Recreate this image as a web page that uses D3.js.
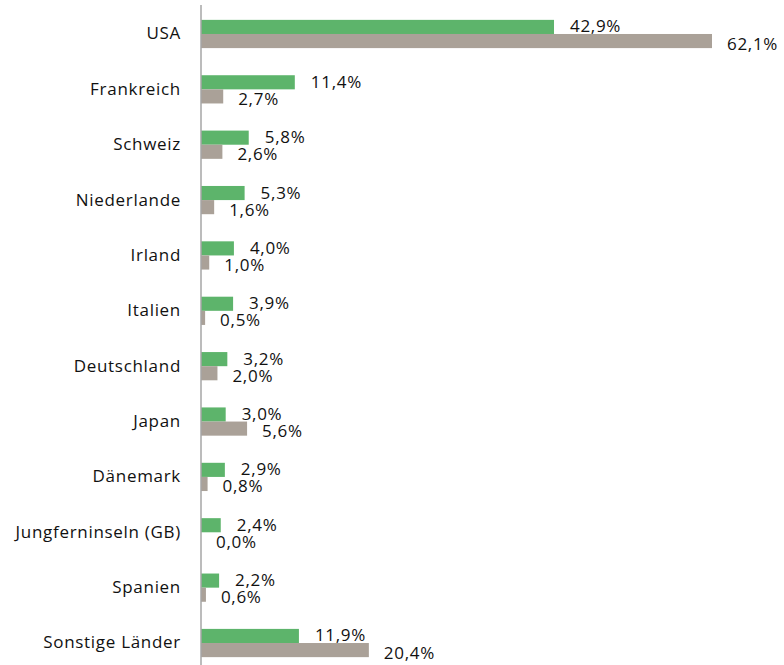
<!DOCTYPE html>
<html>
<head>
<meta charset="utf-8">
<script src="https://cdn.jsdelivr.net/npm/d3@7"></script>
<style>
  html, body { margin: 0; padding: 0; background: #fff; }
  svg { display: block; }
  text { font-family: "Open Sans", "Liberation Sans", sans-serif; letter-spacing: 0.7px; }
</style>
</head>
<body>
<svg id="chart" width="784" height="665"></svg>
<script>
const countries = ["USA", "Frankreich", "Schweiz", "Niederlande", "Irland", "Italien",
  "Deutschland", "Japan", "Dänemark", "Jungferninseln (GB)", "Spanien", "Sonstige Länder"];
const seriesA = [42.9, 11.4, 5.8, 5.3, 4.0, 3.9, 3.2, 3.0, 2.9, 2.4, 2.2, 11.9];
const seriesB = [62.1, 2.7, 2.6, 1.6, 1.0, 0.5, 2.0, 5.6, 0.8, 0.0, 0.6, 20.4];

const colorA = "#5db46b";
const colorB = "#aaa198";
const fmt = v => v.toFixed(1).replace(".", ",") + "%";
const fontSize = 17;

const svg = d3.select("#chart");
const x0 = 201;

const x = d3.scaleLinear().domain([0, 62.1]).range([x0, 712]);
const y = d3.scaleBand().domain(countries).range([6.3, 670.7]).paddingInner(0.49).paddingOuter(0.245);
const barH = y.bandwidth() / 2;

const rows = countries.map((c, i) => ({ c, a: seriesA[i], b: seriesB[i] }));

const g = svg.append("g");

// bars
g.selectAll("rect.a").data(rows).join("rect")
  .attr("x", x0).attr("y", d => y(d.c))
  .attr("width", d => x(d.a) - x0).attr("height", barH)
  .attr("fill", colorA);
g.selectAll("rect.b").data(rows).join("rect")
  .attr("x", x0).attr("y", d => y(d.c) + barH)
  .attr("width", d => x(d.b) - x0).attr("height", barH)
  .attr("fill", colorB);

// value labels
g.selectAll("text.la").data(rows).join("text")
  .attr("x", d => x(d.a) + 16).attr("y", d => y(d.c) + barH / 2 - 1)
  .attr("dominant-baseline", "central")
  .attr("font-size", fontSize).attr("fill", "#111")
  .text(d => fmt(d.a));
g.selectAll("text.lb").data(rows).join("text")
  .attr("x", d => x(d.b) + 15).attr("y", d => y(d.c) + barH * 1.5 + 2)
  .attr("dominant-baseline", "central")
  .attr("font-size", fontSize).attr("fill", "#111")
  .text(d => fmt(d.b));

// category axis
const axis = d3.axisLeft(y).tickSize(0).tickPadding(20);
const ag = svg.append("g").attr("transform", `translate(${x0},0)`).call(axis);
ag.select(".domain").remove();
ag.selectAll("text").attr("font-size", fontSize).attr("fill", "#111")
  .attr("font-family", "\"Open Sans\", \"Liberation Sans\", sans-serif");

svg.append("line")
  .attr("x1", x0).attr("x2", x0).attr("y1", 5).attr("y2", 665)
  .attr("stroke", "#a6a6a6").attr("stroke-width", 1.5);
</script>
</body>
</html>
